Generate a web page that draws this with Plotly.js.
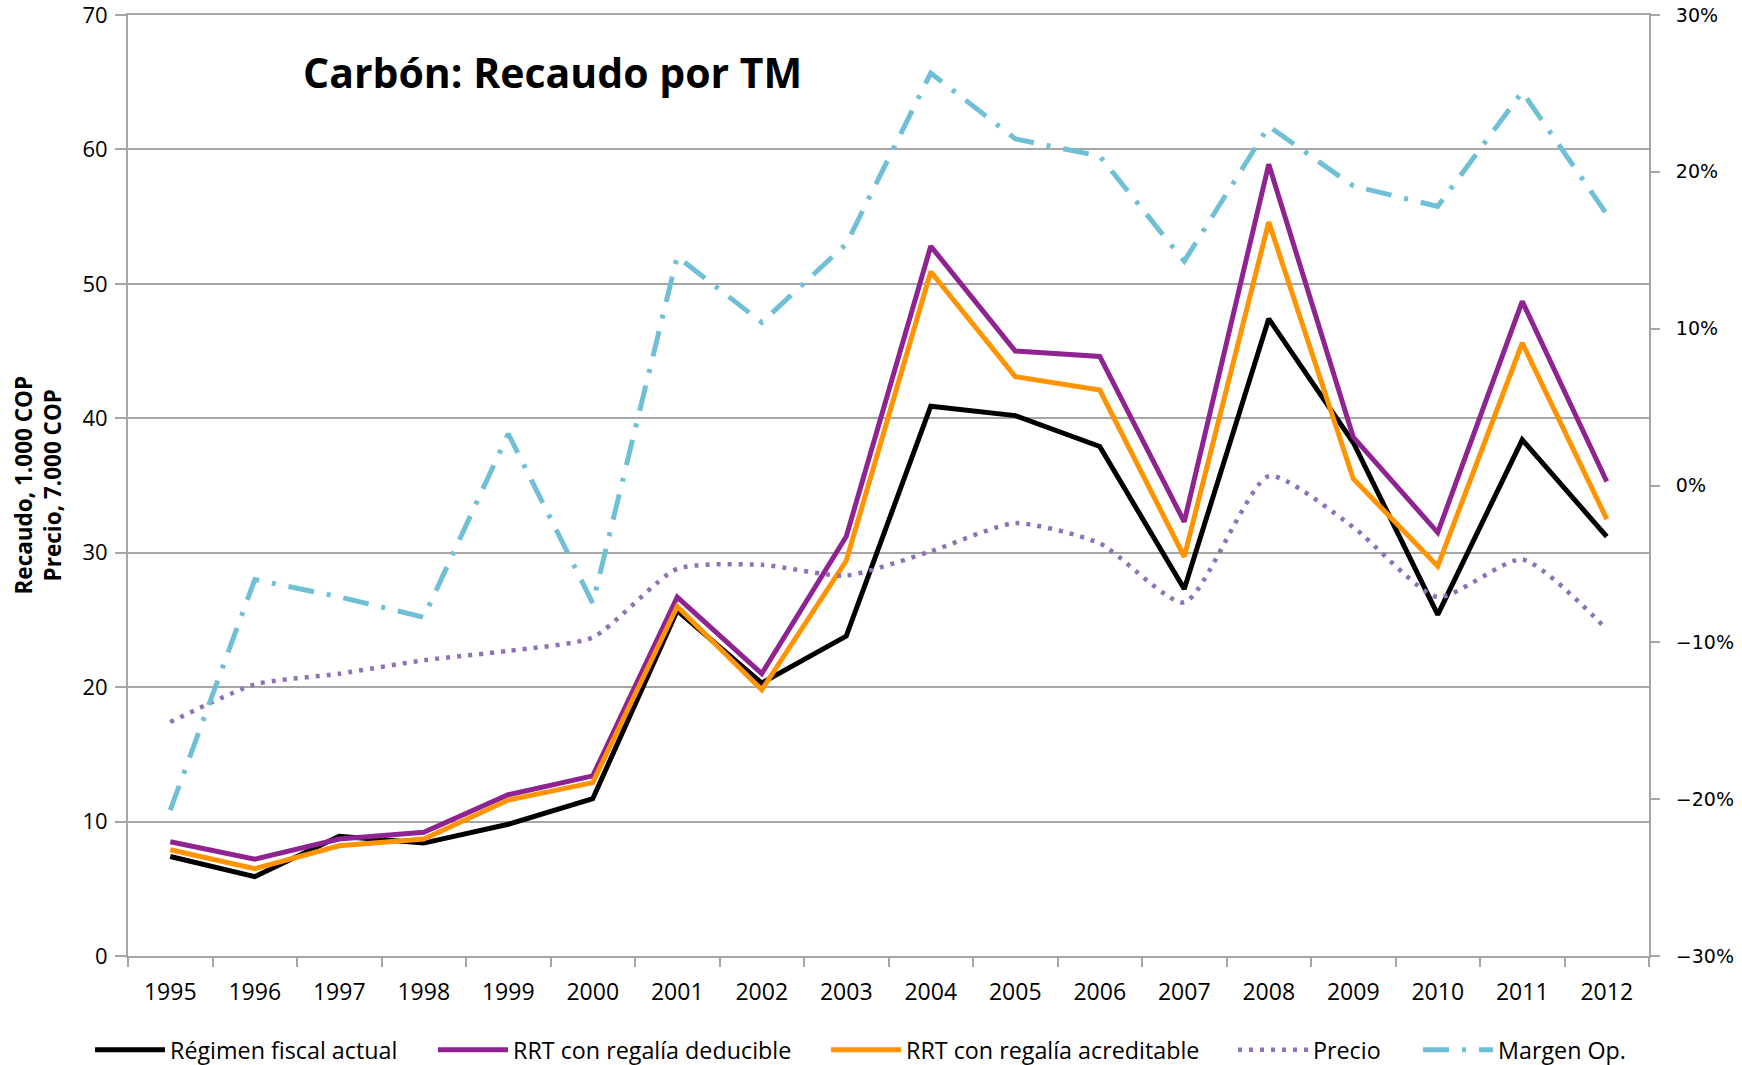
<!DOCTYPE html>
<html>
<head>
<meta charset="utf-8">
<script src="https://cdn.plot.ly/plotly-3.0.1.min.js"></script>
<style>
  html, body { margin: 0; padding: 0; background: #ffffff; }
  #chart { width: 1742px; height: 1065px; }
</style>
</head>
<body>
<div id="chart"></div>
<script>
// Categories
const years = ["1995","1996","1997","1998","1999","2000","2001","2002","2003","2004","2005","2006","2007","2008","2009","2010","2011","2012"];

// Series (left axis: Recaudo 1.000 COP / Precio 7.000 COP)
const regimenActual   = [7.4, 5.9, 8.9, 8.4, 9.8, 11.7, 25.7, 20.3, 23.8, 40.9, 40.2, 37.9, 27.3, 47.4, 38.2, 25.4, 38.4, 31.2];
const rrtDeducible    = [8.5, 7.2, 8.7, 9.2, 12.0, 13.4, 26.7, 21.0, 31.2, 52.8, 45.0, 44.6, 32.3, 58.9, 38.6, 31.5, 48.7, 35.3];
const rrtAcreditable  = [7.9, 6.5, 8.2, 8.7, 11.6, 12.9, 26.0, 19.8, 29.4, 50.9, 43.1, 42.1, 29.7, 54.6, 35.5, 29.0, 45.6, 32.5];
const precio          = [17.4, 20.2, 21.0, 22.0, 22.7, 23.7, 28.8, 29.1, 28.3, 30.1, 32.2, 30.7, 26.3, 35.7, 31.9, 26.7, 29.5, 24.3];
// Right axis (%)
const margenOp        = [-20.7, -6.0, -7.1, -8.4, 3.3, -7.5, 14.6, 10.4, 15.4, 26.3, 22.1, 21.0, 14.3, 22.9, 19.1, 17.8, 25.1, 17.3];

// Labels
const seriesNames = ["Régimen fiscal actual", "RRT con regalía deducible", "RRT con regalía acreditable", "Precio", "Margen Op."];
const chartTitle = "Carbón: Recaudo por TM";
const yTitle = "Recaudo, 1.000 COP<br>Precio, 7.000 COP";

const gridColor = "#a6a6a6";
const baseFont = "Open Sans, Noto Sans, sans-serif";

const traces = [
  { x: years, y: regimenActual, name: seriesNames[0], type: "scatter", mode: "lines", legend: "legend",
    line: { color: "#000000", width: 5 } },
  { x: years, y: rrtDeducible, name: seriesNames[1], type: "scatter", mode: "lines", legend: "legend2",
    line: { color: "#8e2391", width: 5 } },
  { x: years, y: rrtAcreditable, name: seriesNames[2], type: "scatter", mode: "lines", legend: "legend3",
    line: { color: "#ff9300", width: 5 } },
  { x: years, y: precio, name: seriesNames[3], type: "scatter", mode: "lines", legend: "legend4",
    line: { color: "#8f71b5", width: 4.5, dash: "4px,7px", shape: "spline", smoothing: 0.6 } },
  { x: years, y: margenOp, name: seriesNames[4], type: "scatter", mode: "lines", yaxis: "y2", legend: "legend5",
    line: { color: "#6fc0d7", width: 5, dash: "26px,13px,4px,13px" } }
];

function legendAt(px) {
  return {
    orientation: "h",
    xref: "container", x: px / 1742, xanchor: "left",
    yref: "container", y: 1 - 1050 / 1065, yanchor: "middle",
    font: { family: baseFont, size: 23.3, color: "#000000" },
    itemwidth: 70,
    bgcolor: "rgba(0,0,0,0)"
  };
}

const layout = {
  width: 1742, height: 1065,
  paper_bgcolor: "#ffffff", plot_bgcolor: "#ffffff",
  margin: { l: 128, r: 93, t: 15, b: 109 },
  font: { family: baseFont, color: "#000000", size: 22 },
  title: {
    text: "<b>" + chartTitle + "</b>",
    font: { family: baseFont, size: 41, color: "#000000" },
    xref: "container", x: 303 / 1742, xanchor: "left",
    yref: "container", y: 1 - 74 / 1065, yanchor: "middle"
  },
  xaxis: {
    type: "category",
    range: [-0.5, 17.5],
    showgrid: false,
    showline: true, mirror: true, linecolor: gridColor, linewidth: 2,
    ticks: "outside", tickson: "boundaries", ticklen: 9, tickwidth: 2, tickcolor: gridColor,
    tickfont: { family: baseFont, size: 23, color: "#000000" },
    ticklabelstandoff: 14,
    zeroline: false, fixedrange: true
  },
  yaxis: {
    range: [0, 70.0001], dtick: 10, tick0: 0,
    showgrid: true, gridcolor: gridColor, gridwidth: 2,
    showline: true, linecolor: gridColor, linewidth: 2,
    ticks: "outside", ticklen: 11, tickwidth: 2, tickcolor: gridColor,
    tickfont: { family: baseFont, size: 22, color: "#000000" },
    ticklabelstandoff: 3,
    ticklabeloverflow: "allow",
    zeroline: false, fixedrange: true
  },
  yaxis2: {
    overlaying: "y", side: "right",
    range: [-30, 30.0001], dtick: 10, tick0: -30,
    ticksuffix: "%",
    showgrid: false,
    showline: true, linecolor: gridColor, linewidth: 2,
    ticks: "outside", ticklen: 9, tickwidth: 2, tickcolor: gridColor,
    tickfont: { family: "DejaVu Sans, sans-serif", size: 19, color: "#000000" },
    ticklabelstandoff: 12,
    ticklabeloverflow: "allow",
    zeroline: false, fixedrange: true
  },
  showlegend: true,
  legend: legendAt(90),
  legend2: legendAt(433),
  legend3: legendAt(826),
  legend4: legendAt(1233),
  legend5: legendAt(1418),
  annotations: [
    {
      text: "<b>" + yTitle + "</b>",
      xref: "paper", yref: "paper",
      x: (37 - 128) / 1521, y: 0.5,
      xanchor: "center", yanchor: "middle",
      textangle: -90, showarrow: false,
      font: { family: baseFont, size: 22.5, color: "#000000" }
    }
  ]
};

Plotly.newPlot("chart", traces, layout, { displayModeBar: false, staticPlot: true });
</script>
</body>
</html>
